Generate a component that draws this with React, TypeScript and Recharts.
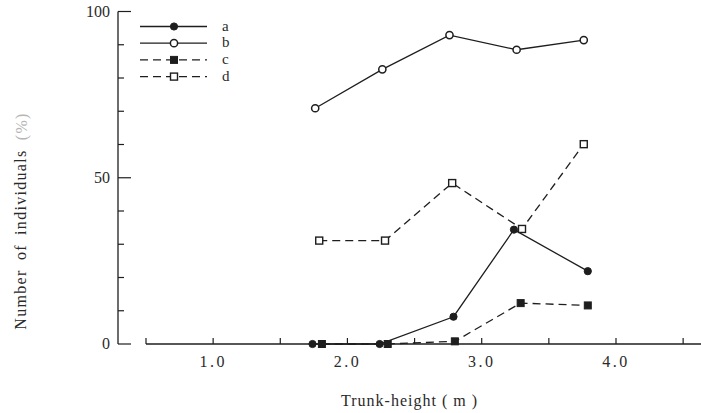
import React from "react";
import {
  LineChart,
  Line,
  XAxis,
  YAxis,
  Legend,
  Label,
  ReferenceLine,
} from "recharts";

const INK = "#1e1e1e";
const TEXT = "#2a2a2a";
const FONT = "'Liberation Serif', 'DejaVu Serif', serif";

// Trunk height (m) for each series, slightly offset as in the print
const aHeights = [1.74, 2.24, 2.79, 3.24, 3.79];
const bHeights = [1.76, 2.26, 2.76, 3.26, 3.76];
const cHeights = [1.81, 2.3, 2.8, 3.29, 3.79];
const dHeights = [1.79, 2.28, 2.78, 3.3, 3.76];

// Number of individuals (%)
const aValues = [0, 0, 8.2, 34.4, 21.9];
const bValues = [70.9, 82.6, 92.9, 88.5, 91.4];
const cValues = [0, 0, 0.8, 12.3, 11.6];
const dValues = [31.1, 31.1, 48.4, 34.6, 60.1];

const seriesNames = ["a", "b", "c", "d"];
const xTicks = [0.5, 1, 1.5, 2, 2.5, 3, 3.5, 4, 4.5];
const yTicks = [0, 10, 20, 30, 40, 50, 60, 70, 80, 90, 100];
const yLabelled = [0, 50, 100];

const toRows = (xs: number[], ys: number[]) =>
  xs.map((x, i) => ({ x, y: ys[i] }));

const aData = toRows(aHeights, aValues);
const bData = toRows(bHeights, bValues);
const cData = toRows(cHeights, cValues);
const dData = toRows(dHeights, dValues);

const DOT_R = 3.6;
const SQ = 7;

const FilledCircle = (p: any) => (
  <circle cx={p.cx} cy={p.cy} r={DOT_R} fill={INK} stroke={INK} strokeWidth={1} />
);
const OpenCircle = (p: any) => (
  <circle cx={p.cx} cy={p.cy} r={DOT_R} fill="#fff" stroke={INK} strokeWidth={1.5} />
);
const FilledSquare = (p: any) => (
  <rect x={p.cx - SQ / 2} y={p.cy - SQ / 2} width={SQ} height={SQ} fill={INK} stroke={INK} strokeWidth={1} />
);
const OpenSquare = (p: any) => (
  <rect x={p.cx - SQ / 2} y={p.cy - SQ / 2} width={SQ} height={SQ} fill="#fff" stroke={INK} strokeWidth={1.4} />
);

const XTick = (props: any) => {
  const { x, y, payload } = props;
  const v = payload.value as number;
  return (
    <g>
      <line x1={x} y1={y} x2={x} y2={y - 6} stroke={INK} strokeWidth={1.2} />
      {Number.isInteger(v) && v > 0 && (
        <text
          x={x}
          y={y + 23}
          textAnchor="middle"
          fontFamily={FONT}
          fontSize={16}
          letterSpacing={2.5}
          fill={TEXT}
        >
          {v.toFixed(1)}
        </text>
      )}
    </g>
  );
};

const YTick = (props: any) => {
  const { x, y, payload } = props;
  const v = payload.value as number;
  const major = yLabelled.includes(v);
  return (
    <g>
      <line x1={x} y1={y} x2={x + (major ? 13 : 6)} y2={y} stroke={INK} strokeWidth={1.2} />
      {major && (
        <text
          x={x - 8}
          y={y + 5}
          textAnchor="end"
          fontFamily={FONT}
          fontSize={16}
          fill={TEXT}
        >
          {v}
        </text>
      )}
    </g>
  );
};

const YTitle = (props: any) => {
  const vb = props.viewBox;
  const cx = vb.x + 21;
  const cy = vb.y + vb.height * 0.63;
  return (
    <text
      x={cx}
      y={cy}
      transform={`rotate(-90 ${cx} ${cy})`}
      textAnchor="middle"
      dominantBaseline="central"
      fontFamily={FONT}
      fontSize={16}
      letterSpacing={1.3}
      wordSpacing={4}
      fill={TEXT}
    >
      Number of individuals <tspan fill="#b5b5b5">(%)</tspan>
    </text>
  );
};

const XTitle = (props: any) => {
  const vb = props.viewBox;
  return (
    <text
      x={vb.x + vb.width / 2}
      y={vb.y + 62}
      textAnchor="middle"
      fontFamily={FONT}
      fontSize={16}
      letterSpacing={1}
      fill={TEXT}
    >
      Trunk-height ( m )
    </text>
  );
};

const legendMarkers = [FilledCircle, OpenCircle, FilledSquare, OpenSquare];
const legendDashes = [undefined, undefined, "8 5", "8 5"];

const LegendBox = () => (
  <svg width={110} height={70}>
    {seriesNames.map((name, i) => {
      const y = 8.5 + i * 16.7;
      const M = legendMarkers[i];
      return (
        <g key={name}>
          <line x1={5} y1={y} x2={72} y2={y} stroke={INK} strokeWidth={1.3} strokeDasharray={legendDashes[i]} />
          <M cx={39} cy={y} />
          <text x={87} y={y + 4} fontFamily={FONT} fontSize={15} fill={TEXT}>
            {name}
          </text>
        </g>
      );
    })}
  </svg>
);

export default function App() {
  return (
    <div style={{ position: "absolute", left: 0, top: 0, background: "#fff" }}>
      <LineChart
        width={701}
        height={413}
        margin={{ top: 11.5, right: 0, bottom: 38, left: 0 }}
      >
        <XAxis
          type="number"
          dataKey="x"
          domain={[0.2915, 4.633]}
          ticks={xTicks}
          allowDataOverflow
          axisLine={false}
          tickLine={false}
          tickSize={0}
          tickMargin={0}
          height={31}
          tick={<XTick />}
          interval={0}
        >
          <Label content={<XTitle />} />
        </XAxis>
        <YAxis
          type="number"
          domain={[0, 100]}
          ticks={yTicks}
          width={118}
          axisLine={{ stroke: INK, strokeWidth: 1.3 }}
          tickLine={false}
          tickSize={0}
          tickMargin={0}
          tick={<YTick />}
          interval={0}
        >
          <Label content={<YTitle />} />
        </YAxis>
        <ReferenceLine
          segment={[
            { x: 0.5, y: 0 },
            { x: 4.633, y: 0 },
          ]}
          stroke={INK}
          strokeWidth={1.3}
        />
        <Legend
          layout="vertical"
          align="center"
          verticalAlign="middle"
          wrapperStyle={{ left: 135, top: 18, width: 110, height: 70 }}
          content={<LegendBox />}
        />
        <Line data={aData} dataKey="y" name="a" stroke={INK} strokeWidth={1.3} dot={<FilledCircle />} isAnimationActive={false} />
        <Line data={bData} dataKey="y" name="b" stroke={INK} strokeWidth={1.3} dot={<OpenCircle />} isAnimationActive={false} />
        <Line data={cData} dataKey="y" name="c" stroke={INK} strokeWidth={1.3} strokeDasharray="8 5" dot={<FilledSquare />} isAnimationActive={false} />
        <Line data={dData} dataKey="y" name="d" stroke={INK} strokeWidth={1.3} strokeDasharray="8 5" dot={<OpenSquare />} isAnimationActive={false} />
      </LineChart>
    </div>
  );
}
